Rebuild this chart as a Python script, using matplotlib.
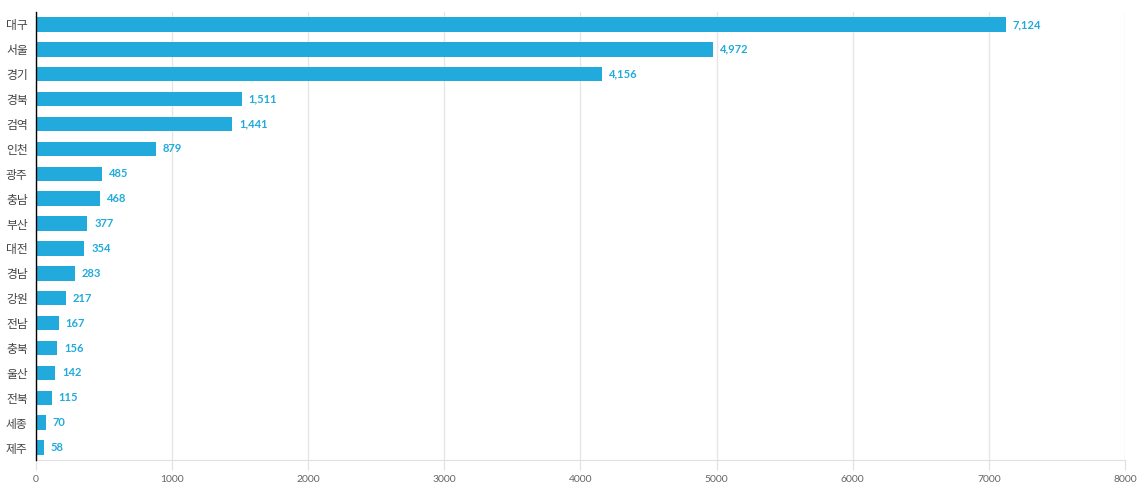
import matplotlib.pyplot as plt
import numpy as np

regions = ['대구', '서울', '경기', '경북', '검역', '인천', '광주', '충남', '부산',
           '대전', '경남', '강원', '전남', '충북', '울산', '전북', '세종', '제주']
cases = [7124, 4972, 4156, 1511, 1441, 879, 485, 468, 377,
         354, 283, 217, 167, 156, 142, 115, 70, 58]
xticks = [0, 1000, 2000, 3000, 4000, 5000, 6000, 7000, 8000]

bar_color = '#21aadb'

fig = plt.figure(figsize=(11.47, 4.94), dpi=100)
ax = fig.add_axes([0.0314, 0.0688, 0.9494, 0.9069])

y = np.arange(len(regions))
ax.barh(y, cases, height=0.58, color=bar_color, zorder=3)

for yi, v in zip(y, cases):
    ax.annotate(f'{v:,}', (v, yi), xytext=(5, 0), textcoords='offset points',
                va='center', ha='left', fontsize=8, fontweight='bold',
                family='Lato', color=bar_color)

ax.set_ylim(len(regions) - 0.5, -0.5)
ax.set_xlim(0, 8000)
ax.set_yticks(y)
ax.set_yticklabels(regions, family='Noto Sans CJK KR', fontsize=8.5, color='#444444')
ax.set_xticks(xticks)
ax.set_xticklabels([str(t) for t in xticks], family='Lato', fontsize=7.5, color='#666666')

ax.grid(axis='x', color='#e6e6e6', linewidth=1, zorder=0)
ax.tick_params(axis='y', length=0, pad=6)
ax.tick_params(axis='x', length=7, color='#e0e0e0', pad=4)
# the tick under 0 continues the black y axis line
ax.get_xticklines()[0].set_color('black')

for s in ['top', 'right']:
    ax.spines[s].set_visible(False)
ax.spines['bottom'].set_color('#e0e0e0')
ax.spines['left'].set_color('black')
ax.spines['left'].set_linewidth(1)
ax.spines['left'].set_zorder(4)

plt.savefig('out.png', dpi=100)
